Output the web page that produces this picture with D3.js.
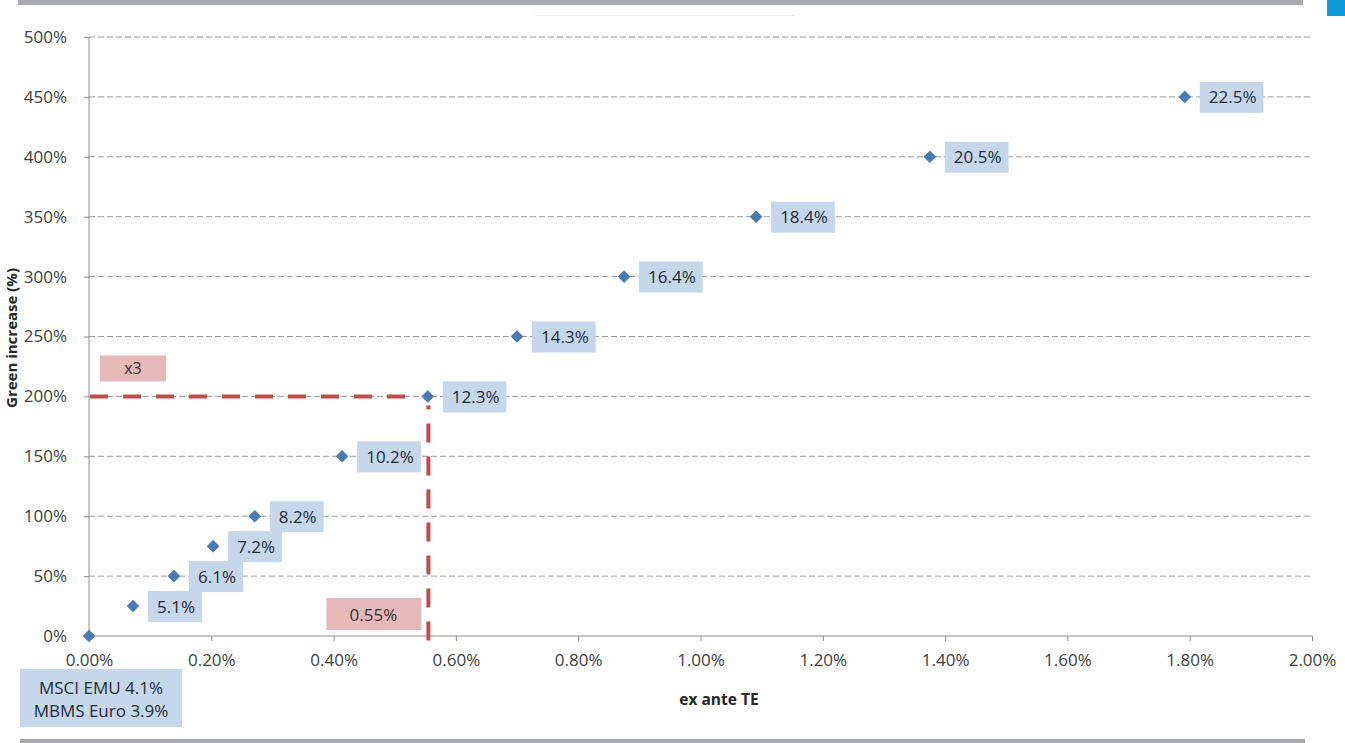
<!DOCTYPE html>
<html>
<head>
	<title>Green increase vs ex ante TE</title>
	<style>
		body { margin: 0; background: white; }
		text { font-family: 'Open Sans', sans-serif; }
	</style>
</head>
<body>

<div id="chart"></div>

<script src="https://d3js.org/d3.v7.min.js"></script>
<script>

	// ex ante TE (%) and green increase (%)
	var te = [0.00, 0.072, 0.139, 0.203, 0.271, 0.414, 0.554, 0.70, 0.875, 1.091, 1.375, 1.792];
	var green = [0, 25, 50, 75, 100, 150, 200, 250, 300, 350, 400, 450];
	var pointLabels = ['', '5.1%', '6.1%', '7.2%', '8.2%', '10.2%', '12.3%', '14.3%', '16.4%', '18.4%', '20.5%', '22.5%'];

	var xTicks = [0, 0.2, 0.4, 0.6, 0.8, 1.0, 1.2, 1.4, 1.6, 1.8, 2.0];
	var yTicks = [0, 50, 100, 150, 200, 250, 300, 350, 400, 450, 500];

	var benchmarkLines = ['MSCI EMU 4.1%', 'MBMS Euro 3.9%'];
	var markTE = 0.555;
	var markGreen = 200;
	var markTELabel = '0.55%';
	var markGreenLabel = 'x3';

	var width = 1345;
	var height = 743;

	var svg = d3.select('#chart')
		.append('svg')
		.attr('width', width)
		.attr('height', height);

	var x = d3.scaleLinear().domain([0, 2]).range([89, 1312]);
	var y = d3.scaleLinear().domain([0, 500]).range([636, 37]);

	// frame bits
	svg.append('rect').attr('x', 18).attr('y', 0).attr('width', 1285).attr('height', 5).attr('fill', '#a6a8ab');
	svg.append('rect').attr('x', 20).attr('y', 739).attr('width', 1285).attr('height', 4).attr('fill', '#a6a8ab');
	svg.append('rect').attr('x', 1327).attr('y', 0).attr('width', 18).attr('height', 16).attr('fill', '#0f9ad8');
	svg.append('rect').attr('x', 535).attr('y', 15).attr('width', 260).attr('height', 1).attr('fill', '#ececec');

	// horizontal grid
	svg.append('g')
		.selectAll('line')
		.data(yTicks.filter(function(d){ return d > 0; }))
		.enter()
		.append('line')
		.attr('x1', x(0))
		.attr('x2', x(2))
		.attr('y1', function(d){ return y(d); })
		.attr('y2', function(d){ return y(d); })
		.attr('stroke', '#9a9a9a')
		.attr('stroke-width', 1)
		.attr('stroke-dasharray', '6,3');

	// axes
	var yAxis = svg.append('g')
		.attr('transform', 'translate(' + x(0) + ',0)')
		.call(d3.axisLeft(y).tickValues(yTicks).tickSize(5).tickPadding(17).tickFormat(function(d){ return d + '%'; }));

	var xAxis = svg.append('g')
		.attr('transform', 'translate(0,' + y(0) + ')')
		.call(d3.axisBottom(x).tickValues(xTicks).tickSize(5).tickPadding(13).tickFormat(function(d){ return d.toFixed(2) + '%'; }));

	[xAxis, yAxis].forEach(function(a){
		a.select('.domain').attr('stroke', '#8c8c8c');
		a.selectAll('.tick line').attr('stroke', '#8c8c8c');
		a.selectAll('.tick text')
			.attr('fill', '#404040')
			.attr('font-size', 17)
			.attr('font-family', "'Open Sans', sans-serif");
	});
	yAxis.select('.domain').attr('d', 'M0,' + y(500) + 'V' + y(0));
	xAxis.select('.domain').attr('d', 'M' + x(0) + ',0H' + x(2));

	// axis titles
	svg.append('text')
		.attr('x', 719)
		.attr('y', 705)
		.attr('text-anchor', 'middle')
		.attr('font-size', 15.5)
		.attr('font-weight', 'bold')
		.attr('fill', '#262626')
		.text('ex ante TE');

	svg.append('text')
		.attr('transform', 'translate(17,' + 338 + ') rotate(-90)')
		.attr('text-anchor', 'middle')
		.attr('font-size', 15)
		.attr('font-weight', 'bold')
		.attr('fill', '#262626')
		.text('Green increase (%)');

	// red dashed markers
	var red = '#bf4d4b';
	svg.append('line')
		.attr('x1', x(0) + 1).attr('x2', x(markTE) - 14)
		.attr('y1', y(markGreen)).attr('y2', y(markGreen))
		.attr('stroke', red).attr('stroke-width', 4).attr('stroke-dasharray', '18,15');
	svg.append('line')
		.attr('x1', x(markTE)).attr('x2', x(markTE))
		.attr('y1', y(markGreen) + 27).attr('y2', y(0) + 5)
		.attr('stroke', red).attr('stroke-width', 4).attr('stroke-dasharray', '19,14');
	svg.append('line')
		.attr('x1', x(markTE)).attr('x2', x(markTE))
		.attr('y1', y(markGreen) + 9).attr('y2', y(markGreen) + 13)
		.attr('stroke', red).attr('stroke-width', 4);

	// pink tags
	svg.append('rect').attr('x', 100).attr('y', y(markGreen) - 41).attr('width', 66).attr('height', 26).attr('fill', '#e6b9b8');
	svg.append('text').attr('x', 133).attr('y', y(markGreen) - 22).attr('text-anchor', 'middle')
		.attr('font-size', 16).attr('fill', '#333').text(markGreenLabel);

	svg.append('rect').attr('x', x(markTE) - 102).attr('y', 598).attr('width', 95).attr('height', 32).attr('fill', '#e6b9b8');
	svg.append('text').attr('x', x(markTE) - 55).attr('y', 621).attr('text-anchor', 'middle')
		.attr('font-size', 17).attr('fill', '#333').text(markTELabel);

	// data points and labels
	var points = te.map(function(d, i){ return { te: d, green: green[i], label: pointLabels[i] }; });

	var labels = svg.append('g')
		.selectAll('g')
		.data(points.filter(function(d){ return d.label !== ''; }))
		.enter()
		.append('g')
		.attr('transform', function(d){ return 'translate(' + (x(d.te) + 15) + ',' + y(d.green) + ')'; });

	labels.append('rect')
		.attr('class', 'lblbox')
		.attr('y', -15)
		.attr('height', 31)
		.attr('fill', '#c6d7ec');

	labels.append('text')
		.attr('x', 9)
		.attr('y', 6.5)
		.attr('font-size', 17)
		.attr('fill', '#1f2a3a')
		.text(function(d){ return d.label; });

	labels.each(function(){
		var g = d3.select(this);
		var w = g.select('text').node().getComputedTextLength();
		g.select('rect').attr('width', w + 16);
	});

	svg.append('g')
		.selectAll('path')
		.data(points)
		.enter()
		.append('path')
		.attr('d', d3.symbol().type(d3.symbolSquare).size(80))
		.attr('transform', function(d){ return 'translate(' + x(d.te) + ',' + y(d.green) + ') rotate(45)'; })
		.attr('fill', '#4a7ab4');

	// benchmark box
	svg.append('rect').attr('x', 20).attr('y', 669).attr('width', 162).attr('height', 58).attr('fill', '#c6d7ec');
	svg.selectAll('.bench')
		.data(benchmarkLines)
		.enter()
		.append('text')
		.attr('class', 'bench')
		.attr('x', 101)
		.attr('y', function(d, i){ return 694 + i * 23; })
		.attr('text-anchor', 'middle')
		.attr('font-size', 17)
		.attr('fill', '#1f2a3a')
		.text(function(d){ return d; });

</script>

</body>
</html>
